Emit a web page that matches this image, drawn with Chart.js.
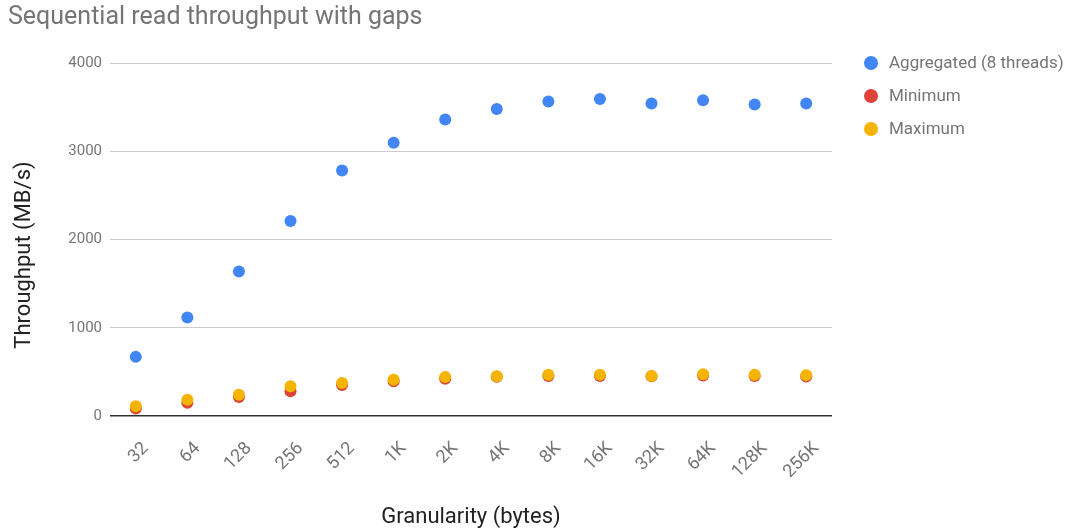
<!DOCTYPE html>
<html>
<head>
<meta charset="utf-8">
<title>Sequential read throughput with gaps</title>
<script src="https://cdn.jsdelivr.net/npm/chart.js@4/dist/chart.umd.min.js"></script>
<style>
  html, body { margin: 0; padding: 0; background: #fff; }
  #wrap { width: 1068px; height: 530px; position: relative; }
</style>
</head>
<body>
<div id="wrap"><canvas id="chart" width="1068" height="530"></canvas></div>
<script>
// Read granularity (bytes)
const granularity = ['32', '64', '128', '256', '512', '1K', '2K', '4K', '8K', '16K', '32K', '64K', '128K', '256K'];

// Throughput in MB/s
const aggregated = [670, 1115, 1638, 2210, 2783, 3097, 3360, 3480, 3563, 3593, 3541, 3578, 3529, 3541];
const minimum    = [85, 150, 215, 280, 351, 393, 423, 445, 453, 453, 450, 458, 453, 448];
const maximum    = [110, 185, 242, 336, 374, 411, 442, 450, 468, 468, 453, 472, 468, 461];

const yTicks = [0, 1000, 2000, 3000, 4000];

const seriesNames = ['Aggregated (8 threads)', 'Minimum', 'Maximum'];
const seriesColors = ['#4285F4', '#DB4437', '#F4B400'];

const FONT = 'Roboto, "Noto Sans", sans-serif';

// Title, axis titles and legend drawn onto the canvas
const decorations = {
  id: 'decorations',
  afterDraw(chart) {
    const ctx = chart.ctx;
    const area = chart.chartArea;
    ctx.save();

    // Chart title
    ctx.fillStyle = '#757575';
    ctx.font = '25px ' + FONT;
    ctx.textAlign = 'left';
    ctx.textBaseline = 'middle';
    ctx.fillText('Sequential read throughput with gaps', 8, 18);

    // X axis title
    ctx.fillStyle = '#222';
    ctx.font = '22px ' + FONT;
    ctx.textAlign = 'center';
    ctx.fillText('Granularity (bytes)', (area.left + area.right) / 2, 517);

    // Y axis title
    ctx.save();
    ctx.translate(24, 255);
    ctx.rotate(-Math.PI / 2);
    ctx.fillText('Throughput (MB/s)', 0, 0);
    ctx.restore();

    // Legend
    ctx.font = '17px ' + FONT;
    ctx.textAlign = 'left';
    chart.data.datasets.forEach((ds, i) => {
      const y = 63 + i * 33;
      ctx.fillStyle = ds.backgroundColor;
      ctx.beginPath();
      ctx.arc(871, y, 7, 0, Math.PI * 2);
      ctx.fill();
      ctx.fillStyle = '#757575';
      ctx.fillText(ds.label, 889, y + 1);
    });

    ctx.restore();
  }
};

const makeSet = (i, values, order) => ({
  label: seriesNames[i],
  data: values,
  showLine: false,
  backgroundColor: seriesColors[i],
  borderColor: seriesColors[i],
  pointBackgroundColor: seriesColors[i],
  pointBorderColor: seriesColors[i],
  pointBorderWidth: 0,
  pointRadius: 6,
  pointHoverRadius: 6,
  order: order
});

new Chart(document.getElementById('chart'), {
  type: 'line',
  data: {
    labels: granularity,
    datasets: [
      makeSet(0, aggregated, 0),
      makeSet(1, minimum, 2),
      makeSet(2, maximum, 1)
    ]
  },
  options: {
    responsive: false,
    animation: false,
    devicePixelRatio: 1,
    layout: { padding: { top: 63, right: 236, left: 0, bottom: 0 } },
    plugins: {
      legend: { display: false },
      title: { display: false },
      tooltip: { enabled: false }
    },
    scales: {
      x: {
        offset: true,
        grid: { display: false, drawTicks: false },
        border: { display: false },
        ticks: {
          color: '#757575',
          font: { family: FONT, size: 18 },
          minRotation: 45,
          maxRotation: 45,
          autoSkip: false,
          padding: 22,
          labelOffset: 10
        },
        afterFit(scale) { scale.height = 114; }
      },
      y: {
        min: 0,
        max: 4000,
        afterBuildTicks(scale) { scale.ticks = yTicks.map(v => ({ value: v })); },
        grid: {
          drawTicks: false,
          color: (c) => (c.tick && c.tick.value === 0 ? '#333333' : '#cccccc'),
          lineWidth: (c) => (c.tick && c.tick.value === 0 ? 1.5 : 1)
        },
        border: { display: false },
        ticks: {
          color: '#757575',
          font: { family: FONT, size: 15 },
          padding: 8,
          callback: (v) => String(v)
        },
        afterFit(scale) { scale.width = 110; }
      }
    }
  },
  plugins: [decorations]
});
</script>
</body>
</html>
